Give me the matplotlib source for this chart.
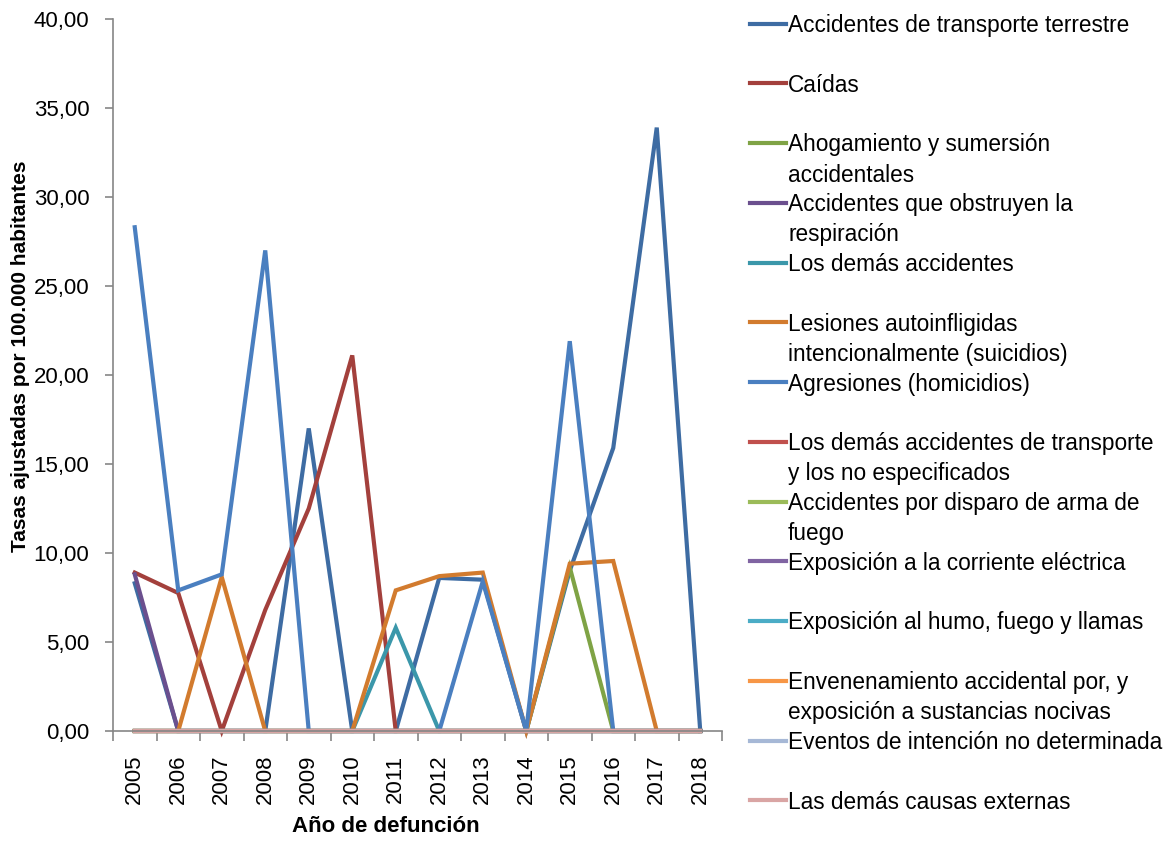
import matplotlib
matplotlib.use("Agg")
import matplotlib.pyplot as plt
from matplotlib.lines import Line2D
from matplotlib.ticker import FuncFormatter, FixedLocator

plt.rcParams["font.family"] = ["Liberation Sans", "DejaVu Sans"]

# Datos
anios = [str(a) for a in range(2005, 2019)]

series = [
    "Accidentes de transporte terrestre",
    "Caídas",
    "Ahogamiento y sumersión\naccidentales",
    "Accidentes que obstruyen la\nrespiración",
    "Los demás accidentes",
    "Lesiones autoinfligidas\nintencionalmente (suicidios)",
    "Agresiones (homicidios)",
    "Los demás accidentes de transporte\ny los no especificados",
    "Accidentes por disparo de arma de\nfuego",
    "Exposición a la corriente eléctrica",
    "Exposición al humo, fuego y llamas",
    "Envenenamiento accidental por, y\nexposición a sustancias nocivas",
    "Eventos de intención no determinada",
    "Las demás causas externas",
]

transporte = [8.3, 0, 0, 0, 17.0, 0, 0, 8.6, 8.5, 0, 9.0, 15.9, 33.9, 0]
caidas = [8.9, 7.75, 0, 6.8, 12.5, 21.1, 0, 0, 0, 0, 0, 0, 0, 0]
ahogamiento = [0, 0, 0, 0, 0, 0, 0, 0, 0, 0, 9.2, 0, 0, 0]
obstruyen = [8.8, 0, 0, 0, 0, 0, 0, 0, 0, 0, 0, 0, 0, 0]
demas_accidentes = [0, 0, 0, 0, 0, 0, 5.8, 0, 0, 0, 0, 0, 0, 0]
suicidios = [0, 0, 8.65, 0, 0, 0, 7.9, 8.7, 8.9, 0, 9.4, 9.55, 0, 0]
homicidios = [28.3, 7.9, 8.8, 27.0, 0, 0, 0, 0, 8.4, 0, 21.9, 0, 0, 0]
otros_transporte = [0] * 14
disparo = [0] * 14
electrica = [0] * 14
humo = [0] * 14
envenenamiento = [0] * 14
no_determinada = [0] * 14
demas_causas = [0] * 14

valores = [transporte, caidas, ahogamiento, obstruyen, demas_accidentes, suicidios,
           homicidios, otros_transporte, disparo, electrica, humo, envenenamiento,
           no_determinada, demas_causas]

colores = ["#3E6CA3", "#A3403C", "#7FA345", "#6B4F8E", "#3B97AA", "#D27B2E",
           "#4A7FC0", "#C0504D", "#9BBB59", "#8064A2", "#4BACC6", "#F79646",
           "#A6B8D6", "#D9A5A4"]

W, H = 1168, 842
fig = plt.figure(figsize=(W / 100, H / 100), dpi=100)
ax = fig.add_axes([113 / W, (H - 731) / H, (722 - 113) / W, (731 - 19) / H])

x = list(range(len(anios)))
for v, c in zip(valores, colores):
    ax.plot(x, v, color=c, lw=3, solid_joinstyle="miter", clip_on=False)

ax.set_xlim(-0.5, len(anios) - 0.5)
ax.set_ylim(0, 40)
ax.set_yticks(range(0, 41, 5))
ax.yaxis.set_major_formatter(FuncFormatter(lambda v, p: f"{v:.2f}".replace(".", ",")))
ax.set_xticks(x)
ax.set_xticklabels(anios, rotation=90, fontsize=16)
ax.xaxis.set_minor_locator(FixedLocator([i - 0.5 for i in range(len(anios) + 1)]))
ax.tick_params(axis="x", which="major", length=0, pad=17)
ax.tick_params(axis="x", which="minor", length=7, width=1.2, color="#868686")
ax.tick_params(axis="y", length=6, width=1.2, color="#868686", labelsize=16, pad=11)

for s in ["top", "right"]:
    ax.spines[s].set_visible(False)
for s in ["left", "bottom"]:
    ax.spines[s].set_color("#868686")
    ax.spines[s].set_linewidth(1.2)

fig.text(386 / W, 1 - 827 / H, "Año de defunción", fontsize=16, fontweight="bold",
         ha="center", va="center")
fig.text(21 / W, 1 - 356 / H, "Tasas ajustadas por 100.000 habitantes", fontsize=15,
         fontweight="bold", rotation=90, ha="center", va="center")

# Leyenda manual
for i, (nombre, c) in enumerate(zip(series, colores)):
    yc = 23.5 + 59.75 * i
    fig.add_artist(Line2D([750 / W, 786 / W], [1 - yc / H, 1 - yc / H], color=c, lw=3))
    for k, linea in enumerate(nombre.split("\n")):
        fig.text(788 / W, 1 - (yc + 8.5 + 30 * k) / H, linea, fontsize=16.3,
                 va="baseline", ha="left")

fig.savefig("out.png", dpi=100)
